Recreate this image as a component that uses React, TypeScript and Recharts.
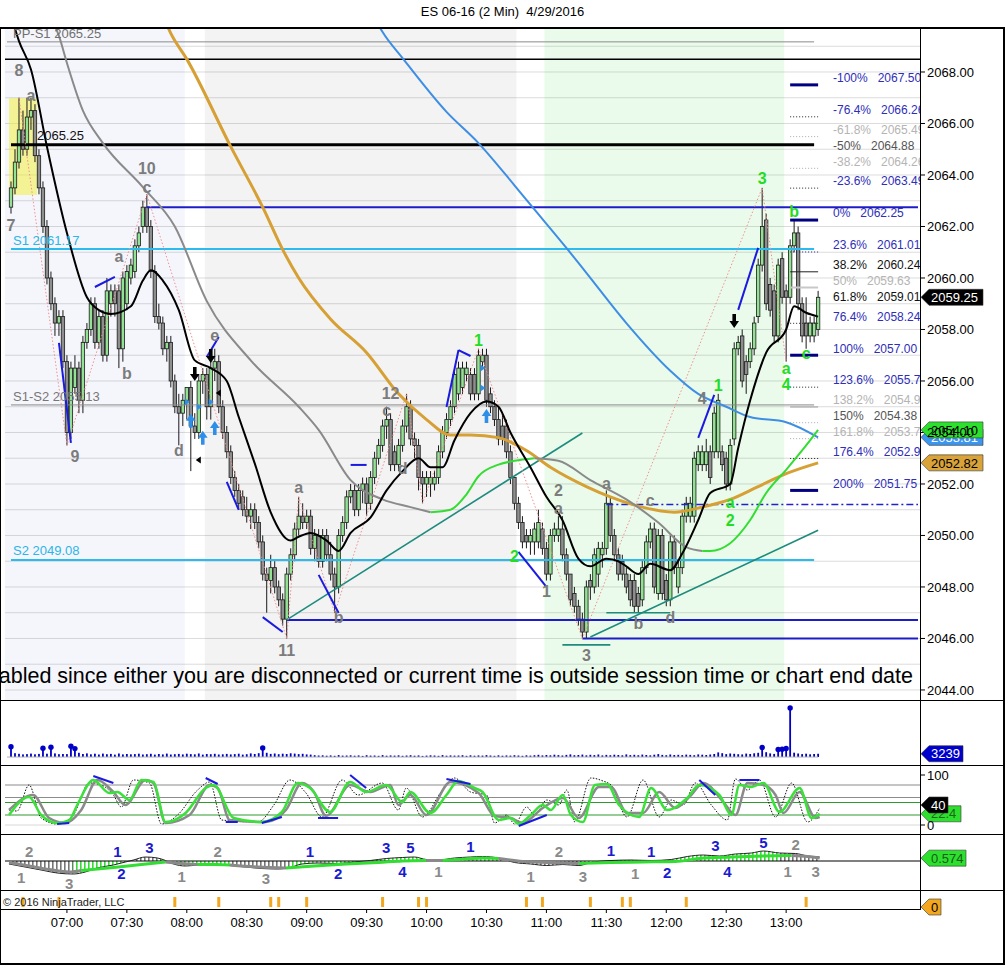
import React from "react";
import {
  ComposedChart,
  Bar,
  Line,
  Area,
  XAxis,
  YAxis,
  CartesianGrid,
  ReferenceLine,
  ReferenceArea,
  ReferenceDot,
} from "recharts";

const FONT = "'Liberation Sans', Arial, Helvetica, sans-serif";

// ES 06-16, 2 min bars, 06:32 .. 13:16
const opens = [
  2062.75, 2063.5, 2064.5, 2065.75, 2065, 2066.25, 2066.5, 2064.75, 2063.5, 2062,
  2060, 2059, 2058.25, 2058.5, 2056.75, 2054, 2055.75, 2056.5, 2055.25, 2057.5,
  2058, 2059, 2057.5, 2058.5, 2057, 2059, 2059.5, 2059.5, 2057.25, 2059,
  2060, 2060.25, 2061.25, 2062, 2062.75, 2062, 2060.25, 2058.5, 2058.25, 2057.25,
  2057.5, 2056, 2055, 2054.75, 2055.25, 2055.75, 2054.25, 2054, 2056, 2056.25,
  2055, 2056.5, 2056.75, 2055, 2054, 2053.25, 2052.25, 2051.75, 2051.5, 2051,
  2050.75, 2051, 2050.5, 2049.75, 2048.5, 2048.25, 2048.75, 2048, 2047.5, 2046.75,
  2048.5, 2049.25, 2050.25, 2050.75, 2050.5, 2050.75, 2049.5, 2050, 2049, 2050,
  2049.25, 2048.5, 2048, 2050, 2050.5, 2051.5, 2051.75, 2051, 2051.75, 2052,
  2051.25, 2052.25, 2053, 2053.5, 2054.25, 2054.5, 2053.25, 2052.75, 2053.5, 2054.25,
  2055, 2053.75, 2053.5, 2052.25, 2052, 2052, 2052, 2052.25, 2053.25, 2054,
  2054.5, 2055, 2055.5, 2055.75, 2056.25, 2056.25, 2056.25, 2055.5, 2056.75, 2057,
  2055.5, 2055, 2054.5, 2054.25, 2054.25, 2053.25, 2052.25, 2051.25, 2050.5, 2050,
  2049.75, 2049.75, 2049.75, 2050.25, 2049.5, 2048.5, 2050, 2050, 2050.25, 2049.25,
  2048.5, 2047.75, 2047.25, 2046.75, 2046.25, 2048.25, 2048, 2048.5, 2049.25, 2049.5,
  2051.25, 2050, 2049.25, 2049, 2048.5, 2048.25, 2048.25, 2047.75, 2047.5, 2048.75,
  2049.75, 2050.25, 2047.75, 2050, 2048.25, 2047.5, 2049.75, 2048, 2048.75, 2050.75,
  2050.75, 2050.75, 2052.75, 2052.75, 2052.75, 2053.25, 2053.25, 2053.25, 2053.25, 2053,
  2052, 2053.75, 2057.25, 2057.75, 2056.75, 2056.75, 2057.25, 2058.5, 2060.5, 2062.25,
  2059.75, 2059.5, 2057.75, 2060.75, 2059.5, 2059.25, 2061.25, 2061.75, 2059, 2058.25,
  2057.75, 2057.75, 2058,
];
const highs = [
  2063.75, 2065, 2067, 2066.5, 2067, 2067, 2066.75, 2065, 2063.75, 2062.25,
  2060.25, 2059.25, 2058.75, 2058.75, 2057, 2056.75, 2057, 2056.75, 2057.75, 2058.25,
  2059.25, 2059.25, 2058.75, 2058.75, 2060, 2059.75, 2059.75, 2059.75, 2060.25, 2060.5,
  2060.75, 2061.5, 2062, 2063, 2063.25, 2062.25, 2060.5, 2059, 2058.5, 2057.75,
  2057.75, 2056.25, 2055.5, 2055.5, 2055.75, 2056, 2054.75, 2056.25, 2056.5, 2056.5,
  2056.75, 2057.25, 2057, 2055.25, 2054.25, 2053.5, 2052.5, 2052, 2051.75, 2051.5,
  2051.25, 2051.25, 2050.75, 2050, 2048.75, 2049.25, 2049, 2048.25, 2047.75, 2048.75,
  2049.5, 2050.5, 2051.5, 2051.25, 2051, 2051, 2050.25, 2050.25, 2050.25, 2050.25,
  2049.75, 2048.75, 2050.25, 2050.75, 2051.75, 2052, 2052, 2052, 2052.25, 2052.25,
  2052.5, 2053.25, 2053.75, 2054.5, 2055, 2054.75, 2053.5, 2053.75, 2054.5, 2055.5,
  2055.25, 2054, 2053.75, 2052.5, 2052.5, 2052.5, 2052.5, 2053.5, 2054.25, 2054.75,
  2055.25, 2056.5, 2056.75, 2056.75, 2056.75, 2056.5, 2056.5, 2057.25, 2057.25, 2057.25,
  2055.75, 2055.25, 2055, 2054.75, 2054.5, 2053.5, 2052.25, 2051.5, 2050.75, 2050.25,
  2050.25, 2050.5, 2051, 2050.5, 2049.75, 2050.25, 2050.5, 2050.75, 2050.75, 2049.5,
  2048.5, 2048, 2047.5, 2047, 2048.25, 2048.5, 2049.5, 2049.75, 2049.75, 2051.75,
  2051.5, 2050.25, 2049.5, 2049.25, 2048.75, 2048.5, 2048.5, 2048, 2049, 2050,
  2050.5, 2050.5, 2050.25, 2050.25, 2048.5, 2050, 2050, 2049, 2051, 2051.5,
  2051.5, 2053.25, 2053.5, 2053.5, 2053.75, 2053.5, 2055, 2055.5, 2053.5, 2053.25,
  2053.75, 2057.5, 2057.75, 2058, 2057, 2057.5, 2058.5, 2060.75, 2063.5, 2062.5,
  2060, 2059.75, 2060.75, 2061, 2059.75, 2061.5, 2062.25, 2062, 2059.25, 2059.25,
  2058.5, 2058.5, 2059.5,
];
const lows = [
  2062.5, 2063.25, 2064.25, 2064.75, 2064.75, 2065.75, 2064.5, 2063.25, 2061.75, 2059.75,
  2058.75, 2057.75, 2057.75, 2056.5, 2053.5, 2053.75, 2055.5, 2054.75, 2054.75, 2057.25,
  2057.75, 2057.25, 2057.25, 2056.75, 2056.75, 2058.5, 2058.5, 2056.5, 2056.75, 2058.75,
  2059.75, 2060, 2061, 2061.75, 2061.75, 2060, 2058.25, 2058, 2057, 2056.75,
  2055.75, 2054.75, 2053.5, 2054.25, 2054.5, 2052.5, 2053.75, 2053.75, 2055.5, 2054.5,
  2054.5, 2056, 2054.75, 2053.75, 2053, 2052, 2051.5, 2051, 2050.75, 2050.5,
  2050.25, 2050.25, 2049.5, 2048.25, 2047, 2047.75, 2047.75, 2047.25, 2046.5, 2046,
  2048.25, 2049, 2050, 2050.25, 2050.25, 2049.25, 2049, 2048.75, 2048.75, 2049,
  2048.25, 2047, 2047.75, 2049.75, 2050.25, 2051.25, 2050.75, 2050.75, 2051.25, 2050.75,
  2051, 2052, 2052.75, 2053.25, 2053.75, 2052.5, 2052.5, 2052.5, 2053.25, 2054,
  2053.5, 2053, 2051.75, 2051.25, 2051.5, 2051.5, 2051.75, 2052, 2053, 2053.75,
  2054.25, 2054.75, 2055.25, 2055.5, 2056, 2055.25, 2055.25, 2055.25, 2056.5, 2055,
  2054.75, 2054.25, 2053.5, 2053.5, 2053, 2052, 2051, 2050.25, 2049.5, 2049.5,
  2049.25, 2049.25, 2049.5, 2049.25, 2048.25, 2048.25, 2049.75, 2049.75, 2049, 2048.25,
  2047.25, 2047, 2046.5, 2046, 2046, 2047.5, 2047.75, 2048, 2048.75, 2049.25,
  2049.75, 2049, 2048.25, 2048.25, 2047.75, 2047.25, 2047, 2047, 2047.25, 2048.5,
  2049.5, 2047.75, 2047.5, 2047.5, 2047.25, 2047.25, 2048.5, 2047.75, 2048.5, 2050.5,
  2050.5, 2050.5, 2052.5, 2052.5, 2052.5, 2052, 2053, 2053, 2052.5, 2051.75,
  2051.75, 2053.5, 2057, 2055.75, 2055.5, 2056.5, 2057, 2058.25, 2060.25, 2058.75,
  2058.5, 2057.5, 2057.5, 2059, 2056.75, 2059, 2061, 2058.75, 2057.5, 2057.25,
  2057.5, 2057.5, 2057.75,
];
const closes = [
  2063.5, 2064.5, 2065.75, 2065, 2066.25, 2066.5, 2064.75, 2063.5, 2062, 2060,
  2059, 2058.25, 2058.5, 2056.75, 2054, 2056.5, 2056.5, 2055.25, 2057.5, 2058,
  2059, 2057.5, 2058.5, 2057, 2059.5, 2059.5, 2059, 2057.25, 2060, 2060.25,
  2060.5, 2061.25, 2061.75, 2062.75, 2062, 2060.25, 2058.5, 2058.25, 2057.25, 2057.5,
  2056, 2055, 2054.75, 2055.25, 2055.75, 2054.25, 2054, 2056, 2056.25, 2055,
  2056.5, 2056.75, 2055, 2054, 2053.25, 2052.25, 2051.75, 2051.25, 2051, 2050.75,
  2051, 2050.5, 2049.75, 2048.5, 2048.25, 2048.75, 2048, 2047.5, 2046.75, 2048.5,
  2049.25, 2050.25, 2050.75, 2050.5, 2050.75, 2049.5, 2050, 2049, 2050, 2049.25,
  2048.5, 2048, 2050, 2050.5, 2051.5, 2051.75, 2051, 2051.75, 2052, 2051.25,
  2052.25, 2053, 2053.5, 2054.25, 2054.5, 2052.75, 2052.75, 2053.5, 2054.25, 2055,
  2053.75, 2053.5, 2052.25, 2052, 2052.25, 2052.25, 2052.25, 2053.25, 2054, 2054.5,
  2055, 2056.25, 2056.5, 2056.5, 2056.5, 2055.5, 2055.5, 2057, 2057, 2055.25,
  2055, 2054.5, 2053.75, 2053.75, 2053.25, 2052.25, 2051.25, 2050.5, 2049.75, 2049.75,
  2050, 2050.25, 2050.5, 2049.5, 2048.5, 2050, 2050.25, 2050.25, 2049.25, 2048.5,
  2047.5, 2047.25, 2046.75, 2046.25, 2048, 2048, 2049.25, 2049.5, 2049.5, 2051.25,
  2050, 2049.25, 2048.5, 2048.5, 2048, 2047.5, 2047.25, 2047.25, 2048.75, 2049.75,
  2050.25, 2048, 2050, 2047.75, 2047.5, 2049.75, 2048.75, 2048.75, 2050.75, 2051.25,
  2051.25, 2053, 2053.25, 2053.25, 2053.25, 2052.25, 2054.75, 2055.25, 2052.75, 2052,
  2053.5, 2057.25, 2057.5, 2056, 2056.25, 2057.25, 2058.25, 2060.5, 2062, 2059,
  2058.75, 2057.75, 2060.5, 2059.25, 2059.25, 2061.25, 2061.75, 2059, 2057.75, 2057.75,
  2058.25, 2058.25, 2059.25,
];
const volumes = [
  10200, 3800, 3200, 2600, 2900, 3400, 2700, 3100, 8800, 3300,
  9800, 3600, 2800, 3000, 2900, 10800, 8400, 4200, 3000, 3600,
  2700, 3300, 2500, 3400, 2800, 3100, 2400, 3500, 2600, 3000,
  2700, 2900, 3300, 2500, 2800, 3200, 2400, 3000, 2600, 3400,
  2500, 2800, 3100, 2600, 3300, 2900, 2700, 3500, 2400, 3000,
  2800, 3200, 2500, 2700, 3100, 2600, 2900, 3300, 2400, 2800,
  3600, 3000, 3800, 9000, 4200, 3100, 3500, 2800, 3300, 3000,
  3700, 3400, 2900, 3200, 2600, 2400, 1800, 1500, 1700, 1300,
  1600, 1200, 1900, 1400, 1500, 1700, 1300, 1600, 1100, 1800,
  1400, 1500, 1200, 1900, 1300, 1600, 1400, 1700, 1200, 1500,
  1800, 1300, 1600, 1100, 1400, 1700, 1500, 1200, 1900, 1300,
  1600, 1400, 1500, 1800, 1200, 1700, 1300, 1600, 1400, 1900,
  1500, 1200, 1700, 1300, 1600, 1400, 1800, 1500, 1200, 1700,
  1400, 1800, 2200, 1600, 2000, 1700, 2300, 1900, 1500, 2100,
  2600, 1800, 2000, 2400, 1700, 2200, 1900, 2500, 1600, 2100,
  1800, 2300, 2000, 1700, 2600, 1900, 2200, 1800, 2400, 2000,
  1700, 2300, 2900, 2100, 1800, 2500, 2000, 2200, 1900, 2400,
  2100, 1800, 2600, 2300, 2000, 2500, 3000, 4600, 3800, 2900,
  3500, 3200, 2800, 2600, 3400, 3000, 3700, 4200, 9500, 4800,
  3600, 3100, 7600, 7800, 8600, 49000, 4300, 3500, 2900, 3300,
  2700, 3000, 3239,
];

// bars that carry the orange signal
const signalBars = [3, 12, 41, 52, 65, 67, 74, 93, 102, 104, 129, 133, 145, 153, 155, 169, 199];

const timeLabels = ["07:00", "07:30", "08:00", "08:30", "09:00", "09:30", "10:00", "10:30", "11:00", "11:30", "12:00", "12:30", "13:00"];
const timeSlots = [15, 30, 45, 60, 75, 90, 105, 120, 135, 150, 165, 180, 195];

const priceTicks = [2044, 2046, 2048, 2050, 2052, 2054, 2056, 2058, 2060, 2062, 2064, 2066, 2068];
const gridLevels = [
  2044, 2045, 2046, 2047, 2048, 2049, 2050, 2051, 2052, 2053, 2054, 2055, 2056,
  2057, 2058, 2059, 2060, 2061, 2062, 2063, 2064, 2065, 2066, 2067, 2068, 2069,
];

type Pt = [number, number];

// moving averages as [bar, price]
const maBlack: Pt[] = [
  [0, 2070.2], [2, 2069.2], [5, 2068.1], [9, 2065.1], [14, 2061.75], [19, 2059.25], [22, 2058.75],
  [25, 2058.6], [30, 2058.9], [33, 2059.9], [35, 2060.3], [38, 2059.9], [42, 2058.75], [46, 2056.8],
  [50, 2056.5], [54, 2056], [57, 2054.6], [61, 2052.8], [65, 2050.9], [70, 2049.8], [72, 2049.95],
  [75, 2050.1], [79, 2049.8], [82, 2049.4], [85, 2050.1], [90, 2050.7], [94, 2051.75], [98, 2052.5],
  [102, 2053], [105, 2052.65], [108, 2052.65], [111, 2053.7], [115, 2054.75], [119, 2055.2],
  [122, 2055], [125, 2054], [130, 2052.65], [134, 2051.5], [138, 2050.6], [142, 2049.1],
  [145, 2048.8], [149, 2049.1], [152, 2049.0], [154, 2048.8], [157, 2048.5], [160, 2048.9],
  [165, 2048.65], [168, 2049.3], [172, 2050.6], [175, 2051.65], [180, 2052], [182, 2053.4],
  [185, 2055.25], [189, 2057.1], [194, 2058], [196, 2058.9], [199, 2058.65], [202, 2058.5],
];
const maFalling1: Pt[] = [
  [10, 2070.1], [12, 2069.4], [14, 2068.35], [18, 2066.5], [23, 2065.24], [33, 2063.53],
  [41, 2062], [49, 2059.1], [60, 2056.8], [72, 2055], [77, 2054.1], [85, 2052.15],
  [93, 2051.4], [100, 2051.1], [105, 2050.9],
];
const maRising1: Pt[] = [
  [105, 2050.9], [110, 2051.0], [114, 2051.6], [117, 2052.3], [122, 2052.75], [126, 2052.9], [131, 2053.0],
];
const maFalling2: Pt[] = [
  [131, 2053.0], [137, 2052.9], [145, 2052.15], [154, 2051.4], [162, 2050.5], [169, 2049.55], [173, 2049.4],
];
const maRising2: Pt[] = [
  [173, 2049.4], [175, 2049.4], [180, 2049.7], [185, 2050.6], [189, 2051.65], [194, 2052.55],
  [198, 2053.3], [202, 2054.1],
];
const maOrange: Pt[] = [
  [38, 2070.2], [40, 2069.5], [44, 2068.5], [55, 2065.1], [63, 2062.75], [68, 2061.1], [72, 2060],
  [80, 2058.4], [89, 2057.1], [97, 2055.5], [104, 2054.5], [110, 2053.9], [115, 2053.9],
  [122, 2053.8], [129, 2053.3], [135, 2052.65], [144, 2051.9], [150, 2051.5], [158, 2051.1],
  [166, 2050.9], [173, 2051.1], [180, 2051.4], [187, 2051.9], [194, 2052.4], [202, 2052.82],
];
const maBlue: Pt[] = [
  [91, 2070.1], [93, 2069.55], [98, 2068.54], [109, 2066.45], [117, 2065.24], [126, 2063.6],
  [130, 2062.85], [139, 2061.17], [144, 2060.2], [154, 2058.25], [165, 2056.4], [172, 2055.5],
  [179, 2055], [185, 2054.6], [194, 2054.4], [202, 2053.81],
];
const zigzag: Pt[] = [
  [2, 2067], [14, 2053.5], [34, 2063.25], [69, 2046], [72, 2051.5], [81, 2047], [99, 2055.5],
  [103, 2051.25], [117, 2057.25], [143, 2046], [188, 2063.5], [194, 2056.75],
];

// pivot and swing lines: price, first bar, last bar
const pivotLines = [
  { name: "pp-s1", price: 2069.17, from: -1, to: 201 },
  { name: "pp", price: 2065.17, from: 0, to: 201 },
  { name: "s1", price: 2061.13, from: 0, to: 201 },
  { name: "s1-s2", price: 2055.07, from: 0, to: 201 },
  { name: "s2", price: 2049.05, from: 0, to: 201 },
  { name: "swing10", price: 2062.75, from: 34, to: 227 },
  { name: "swing11", price: 2046.72, from: 69, to: 227 },
  { name: "swing3", price: 2046.0, from: 143, to: 227 },
  { name: "mid", price: 2051.2, from: 149, to: 227 },
];
const pivotTexts = [
  { text: "PP-S1 2065.25", price: 2069.5, bar: 1 },
  { text: "2065.25", price: 2065.55, bar: 7 },
  { text: "S1 2061.17", price: 2061.48, bar: 1 },
  { text: "S1-S2 2055.13", price: 2055.42, bar: 1 },
  { text: "S2 2049.08", price: 2049.44, bar: 1 },
];

const trendLines: [Pt, Pt][] = [
  [[69, 2046.72], [143, 2053.98]],
  [[145, 2046.06], [202, 2050.2]],
  [[138, 2045.75], [150, 2045.75]],
  [[149, 2047.0], [165, 2047.0]],
];
const waveMarks: Pt[][] = [
  [[12, 2057.48], [15, 2053.6]],
  [[21, 2059.65], [26, 2060.04]],
  [[49, 2056.93], [52, 2057.71]],
  [[54, 2052.08], [57, 2050.99]],
  [[63, 2046.83], [68, 2046.25]],
  [[77, 2048.47], [82, 2046.99]],
  [[85, 2052.74], [89, 2052.74]],
  [[109, 2054.99], [112, 2057.2]],
  [[112, 2057.2], [115, 2056.97]],
  [[127, 2049.36], [134, 2048.0]],
  [[172, 2053.79], [176, 2055.46]],
  [[182, 2058.76], [187, 2061.17]],
];

// wave count labels: bar, price, text
const grayLabels: [number, number, string][] = [
  [2, 2068.08, "8"], [5, 2067.1, "a"], [0, 2062.05, "7"], [34, 2064.27, "10"], [34, 2063.53, "c"],
  [27, 2060.85, "a"], [29, 2056.31, "b"], [16, 2053.09, "9"], [42, 2053.32, "d"], [51, 2057.79, "e"],
  [69, 2045.55, "11"], [72, 2051.88, "a"], [82, 2046.83, "b"], [95, 2055.53, "12"], [94, 2054.87, "c"],
  [98, 2052.62, "d"], [134, 2047.84, "1"], [137, 2051.77, "2"], [137, 2051.07, "a"], [144, 2045.36, "3"],
  [149, 2052.04, "a"], [157, 2046.6, "b"], [160, 2051.38, "c"], [165, 2046.83, "d"], [173, 2055.34, "4"],
];
const greenLabels: [number, number, string][] = [
  [117, 2057.59, "1"], [126, 2049.2, "2"], [177, 2055.84, "1"], [180, 2051.3, "a"], [180, 2050.6, "2"],
  [188, 2063.88, "3"], [196, 2062.6, "b"], [194, 2056.5, "a"], [194, 2055.88, "4"], [199, 2057.09, "c"],
];
const blackDownArrows: Pt[] = [[46, 2056.23], [50, 2056.93], [181, 2058.29]];
const blueUpArrows: Pt[] = [[45, 2054.49], [48, 2053.83], [51, 2054.21], [119, 2054.68]];
const blueTicks: Pt[] = [[44, 2055.18], [47, 2054.99], [50, 2055.18], [118, 2056.5], [118, 2055.73]];
const blackTicks: Pt[] = [[47, 2052.93], [52, 2055.53]];

// fibonacci grid from 2062.25 (0%) to 2057.00 (100%)
const fibPct = ["-100%", "-76.4%", "-61.8%", "-50%", "-38.2%", "-23.6%", "0%", "23.6%", "38.2%", "50%", "61.8%", "76.4%", "100%", "123.6%", "138.2%", "150%", "161.8%", "176.4%", "200%"];
const fibPrice = [2067.5, 2066.26, 2065.49, 2064.88, 2064.26, 2063.49, 2062.25, 2061.01, 2060.24, 2059.63, 2059.01, 2058.24, 2057.0, 2055.76, 2054.99, 2054.38, 2053.76, 2052.99, 2051.75];
const fibLook = [
  ["#2e2eb8", "navy"], ["#2e2eb8", "dot"], ["#b4b4b4", "dotLight"], ["#555555", "none"], ["#b4b4b4", "dotLight"],
  ["#2e2eb8", "dot"], ["#2e2eb8", "navy"], ["#2e2eb8", "dotNavy"], ["#111111", "solid"], ["#b4b4b4", "solidLight"],
  ["#111111", "none"], ["#2e2eb8", "dot"], ["#2e2eb8", "navy"], ["#2e2eb8", "dot"], ["#b4b4b4", "solidGray"],
  ["#555555", "dotLight"], ["#b4b4b4", "dotLight"], ["#2e2eb8", "dot"], ["#2e2eb8", "navy"],
];

// stochastics, read as [bar, value]
const stochFast: Pt[] = [
  [0, 30], [2, 28], [5, 80], [8, 14], [12, 2], [16, 20], [20, 84], [23, 80], [26, 60], [28, 36], [31, 90],
  [35, 84], [38, 2], [42, 20], [47, 70], [50, 86], [53, 10], [62, 6], [66, 40], [70, 90], [74, 64], [78, 16],
  [83, 90], [87, 60], [93, 84], [97, 30], [99, 74], [103, 16], [108, 70], [111, 94], [115, 66], [119, 60],
  [121, 4], [124, 20], [126, 2], [129, 36], [131, 20], [134, 50], [137, 40], [139, 70], [141, 6], [145, 94],
  [148, 88], [150, 80], [154, 16], [158, 90], [162, 16], [165, 50], [168, 40], [171, 84], [175, 40],
  [179, 10], [181, 92], [184, 70], [187, 90], [191, 16], [195, 84], [199, 6], [202, 34],
];
const stochK: Pt[] = [
  [0, 20], [5, 56], [8, 20], [12, 4], [15, 10], [17, 40], [21, 90], [25, 64], [27, 66], [30, 50], [33, 90],
  [36, 86], [39, 6], [44, 24], [49, 74], [51, 80], [56, 14], [63, 6], [68, 26], [72, 84], [75, 74], [80, 26],
  [85, 86], [89, 66], [94, 80], [98, 46], [100, 66], [105, 24], [109, 60], [112, 88], [116, 74], [118, 66],
  [122, 10], [125, 14], [127, 2], [130, 20], [133, 40], [135, 30], [138, 60], [140, 20], [143, 6], [146, 80],
  [149, 82], [152, 40], [157, 16], [160, 74], [164, 30], [169, 54], [172, 80], [177, 60], [180, 20],
  [182, 80], [185, 76], [188, 84], [192, 26], [197, 74], [200, 14], [202, 22.4],
];
const stochD: Pt[] = [
  [0, 30], [6, 60], [10, 14], [14, 4], [18, 30], [22, 90], [26, 66], [29, 40], [34, 90], [36, 84], [39, 4],
  [45, 20], [50, 80], [52, 74], [55, 10], [64, 6], [69, 30], [73, 84], [76, 66], [79, 18], [85, 80],
  [90, 66], [95, 80], [97, 40], [100, 60], [104, 20], [110, 86], [117, 64], [121, 18], [125, 14], [128, 4],
  [133, 34], [138, 54], [142, 14], [147, 76], [150, 76], [154, 24], [158, 24], [162, 66], [166, 34],
  [170, 60], [173, 84], [178, 46], [181, 20], [184, 84], [188, 80], [191, 60], [193, 24], [197, 66],
  [201, 14], [202, 16],
];
const stochMarks: Pt[][] = [
  [[12, 2], [15, 4]], [[21, 98], [26, 84]], [[49, 94], [52, 82]], [[54, 6], [57, 6]], [[63, 4], [68, 16]],
  [[77, 14], [82, 14]], [[85, 100], [89, 74]], [[109, 92], [115, 82]], [[127, -2], [134, 20]],
  [[172, 90], [176, 60]], [[182, 90], [187, 90]],
];
const stochLevels = [80, 55, 45, 20];

// momentum panel
const macdSegments: Pt[][] = [
  [[0, -0.3], [5, -1.0], [10, -1.7], [15, -2.2], [18, -1.9]],
  [[18, -1.9], [26, -1.3], [33, -0.7], [39, -0.2]],
  [[39, -0.2], [43, -0.5], [47, -0.7]],
  [[47, -0.7], [51, -0.7], [55, -0.8]],
  [[55, -0.8], [62, -1.2], [69, -1.4]],
  [[69, -1.4], [76, -1.0], [84, -0.6], [92, -0.3], [98, 0], [104, 0.1]],
  [[104, 0.1], [108, 0.1]],
  [[108, 0.1], [114, 0.4], [118, 0.6], [122, 0.5]],
  [[122, 0.5], [128, -0.1], [135, -0.3], [142, -0.5]],
  [[142, -0.5], [150, -0.3], [158, -0.2], [166, -0.1], [172, 0.5], [180, 0.8], [188, 1.0], [195, 1.1]],
  [[195, 1.1], [199, 0.9], [202, 0.574]],
];
const histPts: Pt[] = [
  [0, -0.6], [4, -1.2], [8, -1.8], [12, -2.4], [16, -2.6], [19, -2.2], [22, -1.4], [26, -0.8], [29, -0.2],
  [31, 0.2], [34, 0.8], [37, 0.6], [39, 0.1], [41, -0.6], [44, -1.0], [47, -0.8], [51, -0.6], [55, -0.9],
  [59, -1.2], [63, -1.5], [67, -1.6], [70, -1.3], [73, -0.6], [77, -0.4], [82, -0.5], [86, -0.2], [90, 0.1],
  [94, 0.5], [98, 0.7], [101, 0.8], [104, 0.3], [107, 0.2], [111, 0.6], [115, 0.8], [118, 0.9], [122, 0.6],
  [126, -0.3], [130, -0.6], [134, -0.9], [138, -0.7], [142, -0.9], [145, -0.3], [150, 0.1], [155, 0.2],
  [160, 0.1], [165, 0.3], [169, 0.9], [173, 1.2], [177, 1.0], [181, 1.4], [185, 1.6], [188, 2.0],
  [192, 1.6], [196, 1.5], [199, 1.0], [202, 0.8],
];
const histRanges: [number, number][] = [
  [0, 16], [16, 31], [31, 41], [41, 55], [55, 70], [70, 122], [122, 145], [145, 192], [192, 202],
];
const macdGrayCounts: [number, number, string][] = [
  [5, 1.8, "2"], [3, -3.4, "1"], [15, -4.6, "3"], [43, -3.2, "1"], [52, 1.8, "2"], [64, -3.6, "3"],
  [107, -2.2, "1"], [137, 1.8, "2"], [130, -3.2, "1"], [143, -3.2, "3"], [156, -2.6, "1"],
  [196, 3.2, "2"], [194, -2.2, "1"], [201, -2.2, "3"],
];
const macdBlueCounts: [number, number, string][] = [
  [27, 1.8, "1"], [28, -2.6, "2"], [35, 2.6, "3"], [75, 1.8, "1"], [82, -2.6, "2"], [94, 2.6, "3"],
  [100, 2.6, "5"], [98, -2.2, "4"], [115, 2.8, "1"], [150, 2.0, "1"], [160, 1.8, "1"], [164, -2.4, "2"],
  [176, 3.0, "3"], [179, -2.2, "4"], [188, 3.6, "5"],
];

const SLOTS = 229;
const LAST = 227; // last slot in the plot

const makeRows = () => Array.from({ length: SLOTS }, (_, s) => ({ slot: s } as Record<string, any>));
const put = (rows: Record<string, any>[], key: string, pts: Pt[]) => {
  pts.forEach(([j, v]) => {
    rows[j + 1][key] = v;
  });
};

const priceRows = makeRows();
opens.forEach((o, j) => {
  const r = priceRows[j + 1];
  const c = closes[j];
  r.o = o;
  r.c = c;
  r.h = Math.max(highs[j], o, c);
  r.l = Math.min(lows[j], o, c);
  r.range = [r.l, r.h];
});
put(priceRows, "maBlack", maBlack);
put(priceRows, "maF1", maFalling1);
put(priceRows, "maR1", maRising1);
put(priceRows, "maF2", maFalling2);
put(priceRows, "maR2", maRising2);
put(priceRows, "maOrange", maOrange);
put(priceRows, "maBlue", maBlue);
put(priceRows, "zz", zigzag);

const volRows = makeRows();
volumes.forEach((v, j) => {
  volRows[j + 1].v = v;
});

const stochRows = makeRows();
put(stochRows, "fast", stochFast);
put(stochRows, "k", stochK);
put(stochRows, "d", stochD);

const macdRows = makeRows();
macdSegments.forEach((seg, i) => put(macdRows, `m${i}`, seg));
put(macdRows, "hist", histPts);
histRanges.forEach(([a, b], i) =>
  put(macdRows, `h${i}`, histPts.filter(([j]) => j >= a && j <= b))
);

const sigRows = makeRows();
signalBars.forEach((j) => {
  sigRows[j + 1].sig = 1;
});

const slot = (j: number) => j + 1;

function Candle(props: any) {
  const { x, y, width, height, payload } = props;
  if (!payload || payload.o == null || !(height > 0)) return <g />;
  const { o, h, l, c } = payload;
  const k = height / (h - l);
  const cx = x + width / 2;
  const yo = y + (h - o) * k;
  const yc = y + (h - c) * k;
  const up = c > o;
  return (
    <g>
      <line x1={cx} x2={cx} y1={y} y2={y + height} stroke="#1a1a1a" strokeWidth={1} />
      <rect
        x={cx - 1.7}
        y={Math.min(yo, yc)}
        width={3.4}
        height={Math.max(Math.abs(yo - yc), 1)}
        fill={up ? "#93e193" : "#8e8e8e"}
        stroke="#1a1a1a"
        strokeWidth={0.8}
      />
    </g>
  );
}

function VolStem(props: any) {
  const { x, y, width, height, payload } = props;
  if (!payload || payload.v == null) return <g />;
  const cx = x + width / 2;
  return (
    <g>
      <rect x={cx - 0.9} y={y} width={1.8} height={Math.max(height, 0.5)} fill="#0000c8" />
      {payload.v > 7000 && <circle cx={cx} cy={y} r={2.7} fill="#0000c8" />}
    </g>
  );
}

function SignalTick(props: any) {
  const { x, y, width, height } = props;
  if (!(height > 0)) return <g />;
  return <rect x={x + width / 2 - 1.5} y={y} width={3} height={height} fill="#f2a71f" />;
}

const textShape =
  (txt: string, color: string, size = 16, weight: any = "bold", anchor: any = "middle", dx = 0) =>
  (p: any) =>
    (
      <text
        x={p.cx + dx}
        y={p.cy}
        dy="0.36em"
        fill={color}
        fontSize={size}
        fontWeight={weight}
        fontFamily={FONT}
        textAnchor={anchor}
      >
        {txt}
      </text>
    );

const tagShape = (txt: string, bg: string, fg: string, w: number) => (p: any) => {
  const x0 = 921;
  const y = p.cy;
  return (
    <g>
      <path
        d={`M${x0},${y} L${x0 + 8},${y - 8} L${x0 + w},${y - 8} L${x0 + w},${y + 8} L${x0 + 8},${y + 8} Z`}
        fill={bg}
        stroke="#333"
        strokeWidth={0.6}
      />
      <text x={x0 + 10} y={y} dy="0.36em" fontSize={13} fill={fg} fontFamily={FONT}>
        {txt}
      </text>
    </g>
  );
};

const fibTextShape = (i: number) => (p: any) => (
  <g>
    <clipPath id={`fibclip${i}`}>
      <rect x={820} y={p.cy - 20} width={100} height={30} />
    </clipPath>
    <text
      x={833}
      y={p.cy - 7}
      dy="0.36em"
      fontSize={12}
      fill={fibLook[i][0]}
      fontFamily={FONT}
      clipPath={`url(#fibclip${i})`}
    >
      {`${fibPct[i]}\u00a0\u00a0\u00a0${fibPrice[i].toFixed(2)}`}
    </text>
  </g>
);

const downArrow = (color: string) => (p: any) => (
  <path d={`M${p.cx - 1.8},${p.cy - 8} h3.6 v7 h3 l-4.8,7 l-4.8,-7 h3 z`} fill={color} />
);
const upArrow = (color: string) => (p: any) => (
  <path d={`M${p.cx - 1.8},${p.cy + 8} h3.6 v-7 h3 l-4.8,-7 l-4.8,7 h3 z`} fill={color} />
);
const rightTick = (color: string) => (p: any) => (
  <path d={`M${p.cx - 2},${p.cy - 3.5} l5,3.5 l-5,3.5 z`} fill={color} />
);
const leftTick = (color: string) => (p: any) => (
  <path d={`M${p.cx + 2},${p.cy - 3.5} l-5,3.5 l5,3.5 z`} fill={color} />
);

const fibStroke = (kind: string) => {
  switch (kind) {
    case "navy":
      return { stroke: "#000080", strokeWidth: 3 };
    case "dot":
      return { stroke: "#222", strokeWidth: 1, strokeDasharray: "1 2" };
    case "dotNavy":
      return { stroke: "#1a1a9a", strokeWidth: 1, strokeDasharray: "1 2" };
    case "dotLight":
      return { stroke: "#aaa", strokeWidth: 1, strokeDasharray: "1 2" };
    case "solid":
      return { stroke: "#222", strokeWidth: 1 };
    case "solidLight":
      return { stroke: "#c8c8c8", strokeWidth: 2 };
    case "solidGray":
      return { stroke: "#999", strokeWidth: 1 };
    default:
      return null;
  }
};

const pivotStyle: Record<string, any> = {
  "pp-s1": { stroke: "#8a8a8a", strokeWidth: 1 },
  pp: { stroke: "#000", strokeWidth: 3 },
  s1: { stroke: "#2bbbee", strokeWidth: 2 },
  "s1-s2": { stroke: "#888", strokeWidth: 1 },
  s2: { stroke: "#2bbbee", strokeWidth: 2 },
  swing10: { stroke: "#1c1cc8", strokeWidth: 2 },
  swing11: { stroke: "#1c1cc8", strokeWidth: 2 },
  swing3: { stroke: "#1c1cc8", strokeWidth: 2 },
  mid: { stroke: "#2222cc", strokeWidth: 1.5, strokeDasharray: "7 3 2 3" },
};
const pivotTextColor = ["#707070", "#111", "#2bb5e8", "#777", "#2bb5e8"];

const PRICE_DOMAIN: [number, number] = [2043.61, 2069.67];

function PricePanel() {
  return (
    <ComposedChart
      width={1005}
      height={671}
      data={priceRows}
      margin={{ top: 0, right: 5, bottom: 0, left: 5 }}
      barCategoryGap={0}
      barGap={0}
    >
      <XAxis dataKey="slot" type="category" hide />
      <YAxis
        orientation="right"
        width={80}
        domain={PRICE_DOMAIN}
        allowDataOverflow
        ticks={priceTicks}
        interval={0}
        tickFormatter={(v: number) => v.toFixed(2)}
        tick={{ fontSize: 13, fill: "#000", fontFamily: FONT }}
        tickLine={{ stroke: "#000" }}
        tickSize={5}
        axisLine={false}
      />
      <ReferenceArea x1={0} x2={44} fill="#4050c0" fillOpacity={0.05} stroke="none" ifOverflow="visible" />
      <ReferenceArea x1={50} x2={127} fill="#000" fillOpacity={0.048} stroke="none" ifOverflow="visible" />
      <ReferenceArea x1={135} x2={194} fill="#00d000" fillOpacity={0.08} stroke="none" ifOverflow="visible" />
      <CartesianGrid vertical={false} horizontalValues={gridLevels} stroke="#dcdcdc" />

      <ReferenceLine y={2068.5} stroke="#000" strokeWidth={1.5} />
      {pivotLines.map((pl) => (
        <ReferenceLine
          key={pl.name}
          segment={[
            { x: slot(pl.from), y: pl.price },
            { x: Math.min(slot(pl.to), LAST + 1), y: pl.price },
          ]}
          {...pivotStyle[pl.name]}
        />
      ))}
      {pivotTexts.map((t, i) => (
        <ReferenceDot
          key={t.text}
          x={slot(t.bar)}
          y={t.price}
          r={0}
          shape={textShape(t.text, pivotTextColor[i], 13, "normal", "start", -2)}
        />
      ))}
      <ReferenceArea x1={1} x2={7} y1={2063.22} y2={2066.99} fill="#f0ee40" fillOpacity={0.55} stroke="none" />

      {trendLines.map(([a, b], i) => (
        <ReferenceLine
          key={`tl${i}`}
          segment={[
            { x: slot(a[0]), y: a[1] },
            { x: slot(b[0]), y: b[1] },
          ]}
          stroke="#1d8b7d"
          strokeWidth={1.6}
        />
      ))}

      {fibPrice.map((p, i) => {
        const st = fibStroke(fibLook[i][1]);
        return st ? (
          <ReferenceLine key={`fl${i}`} segment={[{ x: 196, y: p }, { x: 203, y: p }]} {...st} />
        ) : null;
      })}

      <Line dataKey="zz" type="linear" connectNulls stroke="#f09090" strokeWidth={1} strokeDasharray="1.5 2" dot={false} isAnimationActive={false} />
      <Line dataKey="maOrange" type="monotone" connectNulls stroke="#d6a035" strokeWidth={3} dot={false} isAnimationActive={false} />
      <Line dataKey="maBlue" type="monotone" connectNulls stroke="#3d8ee4" strokeWidth={2} dot={false} isAnimationActive={false} />
      <Line dataKey="maF1" type="monotone" connectNulls stroke="#8a8a8a" strokeWidth={2} dot={false} isAnimationActive={false} />
      <Line dataKey="maF2" type="monotone" connectNulls stroke="#8a8a8a" strokeWidth={2} dot={false} isAnimationActive={false} />
      <Line dataKey="maR1" type="monotone" connectNulls stroke="#33dd33" strokeWidth={2} dot={false} isAnimationActive={false} />
      <Line dataKey="maR2" type="monotone" connectNulls stroke="#33dd33" strokeWidth={2} dot={false} isAnimationActive={false} />

      <Bar dataKey="range" shape={<Candle />} isAnimationActive={false} />

      <Line dataKey="maBlack" type="monotone" connectNulls stroke="#000" strokeWidth={2} dot={false} isAnimationActive={false} />

      {waveMarks.map(([a, b], i) => (
        <ReferenceLine
          key={`wm${i}`}
          segment={[
            { x: slot(a[0]), y: a[1] },
            { x: slot(b[0]), y: b[1] },
          ]}
          stroke="#1a1ae0"
          strokeWidth={2}
        />
      ))}
      {blackDownArrows.map(([j, p], i) => (
        <ReferenceDot key={`bd${i}`} x={slot(j)} y={p} r={0} shape={downArrow("#000")} />
      ))}
      {blueUpArrows.map(([j, p], i) => (
        <ReferenceDot key={`bu${i}`} x={slot(j)} y={p} r={0} shape={upArrow("#2f8fe8")} />
      ))}
      {blueTicks.map(([j, p], i) => (
        <ReferenceDot key={`bt${i}`} x={slot(j)} y={p} r={0} shape={rightTick("#2f8fe8")} />
      ))}
      {blackTicks.map(([j, p], i) => (
        <ReferenceDot key={`kt${i}`} x={slot(j)} y={p} r={0} shape={leftTick("#000")} />
      ))}
      {grayLabels.map(([j, p, t], i) => (
        <ReferenceDot key={`gl${i}`} x={slot(j)} y={p} r={0} shape={textShape(t, "#7c7c7c")} />
      ))}
      {greenLabels.map(([j, p, t], i) => (
        <ReferenceDot key={`grl${i}`} x={slot(j)} y={p} r={0} shape={textShape(t, "#22dd22")} />
      ))}
      {fibPrice.map((p, i) => (
        <ReferenceDot key={`ft${i}`} x={207} y={p} r={0} shape={fibTextShape(i)} />
      ))}

      <ReferenceDot x={LAST + 1} y={2059.25} r={0} shape={tagShape("2059.25", "#000", "#fff", 62)} />
      <ReferenceDot x={LAST + 1} y={2053.81} r={0} shape={tagShape("2053.81", "#3a96ee", "#fff", 62)} />
      <ReferenceDot x={LAST + 1} y={2054.1} r={0} shape={tagShape("2054.10", "#2ee02e", "#000", 62)} />
      <ReferenceDot x={LAST + 1} y={2052.82} r={0} shape={tagShape("2052.82", "#d9a33a", "#000", 62)} />
    </ComposedChart>
  );
}

function VolumePanel() {
  return (
    <ComposedChart
      width={1005}
      height={65}
      data={volRows}
      margin={{ top: 0, right: 85, bottom: 8, left: 5 }}
      barCategoryGap={0}
      barGap={0}
    >
      <XAxis dataKey="slot" type="category" hide />
      <YAxis hide domain={[0, 57000]} allowDataOverflow />
      <ReferenceLine segment={[{ x: 0, y: 0 }, { x: 203, y: 0 }]} stroke="#b0b0b0" strokeWidth={1} />
      <Bar dataKey="v" shape={<VolStem />} isAnimationActive={false} />
      <ReferenceDot x={LAST + 1} y={3239} r={0} shape={tagShape("3239", "#0000cc", "#fff", 42)} />
    </ComposedChart>
  );
}

function StochPanel() {
  const levelColor = ["#8c8c8c", "#8c8c8c", "#2e9a2e", "#2e9a2e"];
  return (
    <ComposedChart width={1005} height={69} data={stochRows} margin={{ top: 10, right: 5, bottom: 9, left: 5 }}>
      <XAxis dataKey="slot" type="category" hide />
      <YAxis
        orientation="right"
        width={80}
        domain={[0, 100]}
        ticks={[0, 100]}
        interval={0}
        allowDataOverflow
        tick={{ fontSize: 13, fill: "#000", fontFamily: FONT }}
        tickLine={{ stroke: "#000" }}
        tickSize={5}
        axisLine={false}
      />
      <ReferenceLine y={0} stroke="#d8d8d8" />
      {stochLevels.map((v, i) => (
        <ReferenceLine key={v} y={v} stroke={levelColor[i]} strokeWidth={1.2} />
      ))}
      <Line dataKey="fast" type="monotone" connectNulls stroke="#111" strokeWidth={1} strokeDasharray="1.5 1.5" dot={false} isAnimationActive={false} />
      <Line dataKey="d" type="monotone" connectNulls stroke="#8a8a8a" strokeWidth={2.5} dot={false} isAnimationActive={false} />
      <Line dataKey="k" type="monotone" connectNulls stroke="#3be03b" strokeWidth={2.5} dot={false} isAnimationActive={false} />
      {stochMarks.map(([a, b], i) => (
        <ReferenceLine
          key={`sm${i}`}
          segment={[
            { x: slot(a[0]), y: a[1] },
            { x: slot(b[0]), y: b[1] },
          ]}
          stroke="#1a1ae0"
          strokeWidth={2}
          ifOverflow="visible"
        />
      ))}
      <ReferenceDot x={LAST + 1} y={22.4} r={0} shape={tagShape("22.4", "#2ee02e", "#1a6a1a", 40)} />
      <ReferenceDot x={LAST + 1} y={40} r={0} shape={tagShape("40", "#000", "#fff", 27)} />
    </ComposedChart>
  );
}

function MacdPanel() {
  return (
    <ComposedChart width={1005} height={56} data={macdRows} margin={{ top: 0, right: 85, bottom: 0, left: 5 }}>
      <defs>
        <pattern id="stripeGray" width="4" height="8" patternUnits="userSpaceOnUse">
          <rect x="0" y="0" width="1.6" height="8" fill="#777" />
        </pattern>
        <pattern id="stripeGreen" width="4" height="8" patternUnits="userSpaceOnUse">
          <rect x="0" y="0" width="1.6" height="8" fill="#33dd33" />
        </pattern>
      </defs>
      <XAxis dataKey="slot" type="category" hide />
      <YAxis hide domain={[-5.8, 5.4]} allowDataOverflow />
      {histRanges.map((_, i) => (
        <Area
          key={`h${i}`}
          dataKey={`h${i}`}
          type="monotone"
          connectNulls
          baseValue={0}
          stroke="none"
          fill={i % 2 === 0 ? "url(#stripeGray)" : "url(#stripeGreen)"}
          fillOpacity={1}
          isAnimationActive={false}
        />
      ))}
      <ReferenceLine y={0} stroke="#000" strokeWidth={1.2} />
      <Line dataKey="hist" type="monotone" connectNulls stroke="#222" strokeWidth={1} dot={false} isAnimationActive={false} />
      {macdSegments.map((_, i) => (
        <Line
          key={`m${i}`}
          dataKey={`m${i}`}
          type="monotone"
          connectNulls
          stroke={i % 2 === 0 ? "#8a8a8a" : "#33dd33"}
          strokeWidth={3}
          dot={false}
          isAnimationActive={false}
        />
      ))}
      {macdGrayCounts.map(([j, v, t], i) => (
        <ReferenceDot key={`mg${i}`} x={slot(j)} y={v} r={0} shape={textShape(t, "#8a8a8a", 15)} />
      ))}
      {macdBlueCounts.map(([j, v, t], i) => (
        <ReferenceDot key={`mb${i}`} x={slot(j)} y={v} r={0} shape={textShape(t, "#1a1ad0", 15)} />
      ))}
      <ReferenceDot x={LAST + 1} y={0.574} r={0} shape={tagShape("0.574", "#2ee02e", "#1a5a1a", 45)} />
    </ComposedChart>
  );
}

function SignalPanel() {
  return (
    <ComposedChart
      width={1005}
      height={73}
      data={sigRows}
      margin={{ top: 7, right: 85, bottom: 0, left: 5 }}
      barCategoryGap={0}
      barGap={0}
    >
      <XAxis
        dataKey="slot"
        type="category"
        height={54}
        ticks={timeSlots}
        interval={0}
        tickFormatter={(s: number) => timeLabels[timeSlots.indexOf(s)] ?? ""}
        tick={{ fontSize: 13, fill: "#000", fontFamily: FONT }}
        tickLine={{ stroke: "#000" }}
        tickSize={4}
        tickMargin={5}
        axisLine={false}
      />
      <YAxis hide domain={[-0.2, 1]} allowDataOverflow />
      <Bar dataKey="sig" shape={<SignalTick />} isAnimationActive={false} />
      <ReferenceDot x={LAST + 1} y={0} r={0} shape={tagShape("0", "#f2a71f", "#000", 20)} />
    </ComposedChart>
  );
}

const frame = [
  { left: 0, top: 27, width: 1005, height: 2 },
  { left: 0, top: 27, width: 1, height: 937 },
  { left: 1003, top: 27, width: 2, height: 937 },
  { left: 0, top: 963, width: 1005, height: 2 },
  { left: 0, top: 700, width: 1005, height: 1 },
  { left: 0, top: 765, width: 1005, height: 1 },
  { left: 0, top: 834, width: 1005, height: 1 },
  { left: 0, top: 890, width: 1005, height: 1 },
  { left: 0, top: 909, width: 921, height: 1 },
  { left: 920, top: 27, width: 1, height: 883 },
];

export default function App() {
  return (
    <div
      style={{
        position: "absolute",
        left: 0,
        top: 0,
        width: 1005,
        height: 965,
        background: "#fff",
        fontFamily: FONT,
        overflow: "hidden",
      }}
    >
      <div
        style={{
          position: "absolute",
          top: 4,
          left: 0,
          width: 1005,
          textAlign: "center",
          fontSize: 13,
          whiteSpace: "pre",
          color: "#000",
        }}
      >
        ES 06-16 (2 Min)  4/29/2016
      </div>
      <div style={{ position: "absolute", top: 29, left: 0 }}>
        <PricePanel />
      </div>
      <div
        style={{
          position: "absolute",
          top: 664,
          left: 1,
          width: 912,
          height: 27,
          overflow: "hidden",
        }}
      >
        <div style={{ position: "absolute", right: 0, top: 0, whiteSpace: "nowrap", fontSize: 21.5, color: "#000" }}>
          abled since either you are disconnected or current time is outside session time or chart end date
        </div>
      </div>
      <div style={{ position: "absolute", top: 700, left: 0 }}>
        <VolumePanel />
      </div>
      <div style={{ position: "absolute", top: 765, left: 0 }}>
        <StochPanel />
      </div>
      <div style={{ position: "absolute", top: 834, left: 0 }}>
        <MacdPanel />
      </div>
      <div style={{ position: "absolute", top: 890, left: 0 }}>
        <SignalPanel />
      </div>
      <div style={{ position: "absolute", top: 896, left: 3, fontSize: 11, color: "#222", whiteSpace: "nowrap" }}>
        © 2016 NinjaTrader, LLC
      </div>
      {frame.map((f, i) => (
        <div key={i} style={{ position: "absolute", background: "#000", ...f }} />
      ))}
    </div>
  );
}
